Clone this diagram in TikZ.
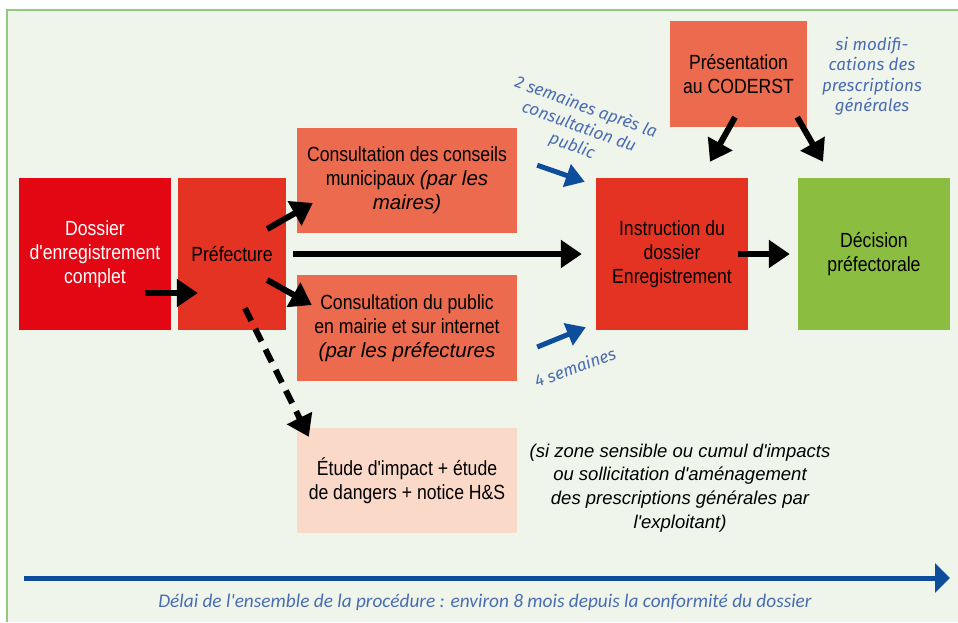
\documentclass[tikz,border=0pt]{standalone}
\usepackage{fontspec}
\setmainfont{Liberation Sans}
\newfontfamily\narrowfont{Liberation Sans}[FakeStretch=0.86]
\newfontfamily\notefont{Fira Sans}
\newfontfamily\spanfont{Carlito}
\usetikzlibrary{arrows.meta}
\definecolor{panelbg}{RGB}{239,245,234}
\definecolor{panelline}{RGB}{146,200,130}
\definecolor{dossierred}{RGB}{227,6,19}
\definecolor{prefred}{RGB}{229,51,35}
\definecolor{consultorange}{RGB}{236,106,77}
\definecolor{decisiongreen}{RGB}{139,190,64}
\definecolor{etudepeach}{RGB}{250,217,201}
\definecolor{arrowblue}{RGB}{14,77,155}
\definecolor{noteblue}{RGB}{74,108,178}
\newcommand{\wideit}[1]{{\rmfamily\itshape #1}}
\begin{document}
\begin{tikzpicture}[x=1pt,y=-1pt,
    box/.style={inner sep=0, align=center, font=\narrowfont\fontsize{20.5}{24}\selectfont},
    bluenote/.style={align=center, text=noteblue, inner sep=0, font=\notefont\itshape\fontsize{17}{20.5}\selectfont},
    flow/.style={line width=6pt, -{Triangle[width=27pt,length=21pt]}},
    push/.style={line width=5pt, arrowblue, -{Triangle[width=23pt,length=19pt]}}]
    \useasboundingbox (0,0) rectangle (958,622);
    \fill[white] (0,0) rectangle (958,622);
    \fill[panelbg] (7,9.5) rectangle (958,622);
    \draw[panelline, line width=2pt] (7,622) -- (7,9.5) -- (958,9.5);

    \node[box, fill=dossierred, text=white, minimum width=152pt, minimum height=152pt] (dossier) at (95,254) {Dossier\\d'enregistrement\\complet};
    \node[box, fill=prefred, minimum width=108pt, minimum height=152pt] (prefecture) at (232,254) {Préfecture};
    \node[box, fill=consultorange, minimum width=220pt, minimum height=105pt] (conseils) at (407,180.5) {Consultation des conseils\\municipaux \wideit{(par les}\\\wideit{maires)}};
    \node[box, fill=consultorange, minimum width=220pt, minimum height=106pt] (public) at (407,328) {Consultation du public\\en mairie et sur internet\\\wideit{(par les préfectures}};
    \node[box, fill=etudepeach, minimum width=220pt, minimum height=105pt] (etude) at (407,480.5) {Étude d'impact + étude\\de dangers + notice H\&S};
    \node[box, fill=prefred, minimum width=152pt, minimum height=152pt] (instruction) at (672,254) {Instruction du\\dossier\\Enregistrement};
    \node[box, fill=decisiongreen, minimum width=152pt, minimum height=152pt] (decision) at (874,254) {Décision\\préfectorale};
    \node[box, fill=consultorange, minimum width=137pt, minimum height=106pt] (coderst) at (738.5,74) {Présentation\\au CODERST};

    \node[bluenote, rotate=-20] (apresconsult) at (579,127) {2 semaines après la\\consultation du\\public};
    \node[bluenote] (modifs) at (872,76) {si modifi-\\cations des\\prescriptions\\générales};
    \node[bluenote, rotate=20] (quatresem) at (575,367) {4 semaines};
    \node[align=center, inner sep=0, font=\itshape\fontsize{18.5}{23.8}\selectfont] (condition) at (680,488) {(si zone sensible ou cumul d\textquotesingle impacts\\ou sollicitation d\textquotesingle aménagement\\des prescriptions générales par\\l\textquotesingle exploitant)};
    \node[inner sep=0, text=noteblue, font=\spanfont\itshape\fontsize{19.3}{22}\selectfont] (delai) at (485,602) {Délai de l'ensemble de la procédure : environ 8 mois depuis la conformité du dossier};

    \draw[flow] ([shift={(-26,39)}]dossier.east) -- ([shift={(20,39)}]prefecture.west);
    \draw[flow] ([shift={(-19,-25)}]prefecture.east) -- ([shift={(16,22.5)}]conseils.west);
    \draw[flow, shorten <=7pt, shorten >=14pt] (prefecture) -- (instruction);
    \draw[flow] ([shift={(-19,26)}]prefecture.east) -- ([shift={(15,-23)}]public.west);
    \draw[flow, dash pattern=on 14pt off 9pt] ([shift={(13,-22)}]prefecture.south) -- ([shift={(12,9)}]etude.north west);
    \draw[flow] ([shift={(-10,0)}]instruction.east) -- ([shift={(-8,0)}]decision.west);
    \draw[flow] ([shift={(-3.5,-10)}]coderst.south) -- ([shift={(38,-16)}]instruction.north);
    \draw[flow] ([shift={(-10,-10)}]coderst.south east) -- ([shift={(-51,-16)}]decision.north);
    \draw[push] ([shift={(20,-68)}]conseils.south east) -- ([shift={(-11,4)}]instruction.north west);
    \draw[push] ([shift={(20,19)}]public.east) -- ([shift={(-10,-3)}]instruction.south west);

    \coordinate (debut) at (24,578);
    \coordinate (fin) at (950,578);
    \draw[line width=5pt, arrowblue, -{Triangle[width=29pt,length=15pt]}] (debut) -- (fin);
\end{tikzpicture}
\end{document}
